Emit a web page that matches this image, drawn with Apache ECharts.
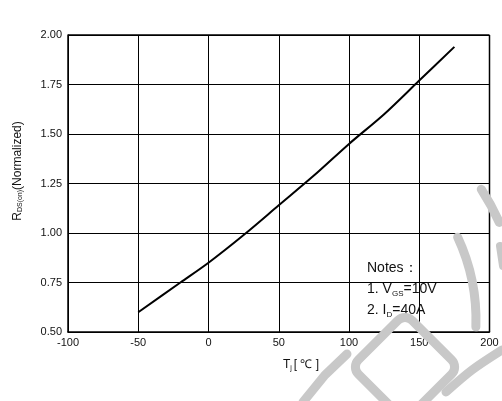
<!DOCTYPE html>
<html>
<head>
<meta charset="utf-8">
<script src="https://cdn.jsdelivr.net/npm/echarts@6/dist/echarts.min.js"></script>
<style>
html,body{margin:0;padding:0;background:#fff;}
#chart{width:502px;height:401px;}
</style>
</head>
<body>
<div id="chart"></div>
<script>
// Data
const temperatures = [-50, -20, 0, 25, 50, 75, 100, 125, 150, 175];
const rdsNormalized = [0.60, 0.75, 0.85, 0.99, 1.14, 1.29, 1.45, 1.60, 1.77, 1.94];
const xTicks = [-100, -50, 0, 50, 100, 150, 200];
const yTicks = ['0.50', '0.75', '1.00', '1.25', '1.50', '1.75', '2.00'];

const seriesData = temperatures.map((t, i) => [t, rdsNormalized[i]]);
const FONT = '"Liberation Sans", Arial, sans-serif';
const WM = '#c8c8c8';

const chart = echarts.init(document.getElementById('chart'), null, {renderer: 'canvas'});
chart.setOption({
  animation: false,
  backgroundColor: '#fff',
  grid: {left: 68, right: 12.5, top: 35, bottom: 69, show: false},
  xAxis: {
    type: 'value', min: -100, max: 200, interval: 50,
    axisLine: {show: true, onZero: false, lineStyle: {color: '#000', width: 1.5}},
    axisTick: {show: false},
    splitLine: {show: true, lineStyle: {color: '#000', width: 1}},
    axisLabel: {color: '#111', fontFamily: FONT, fontSize: 11, margin: 5,
      formatter: v => xTicks.includes(v) ? String(v) : ''}
  },
  yAxis: {
    type: 'value', min: 0.5, max: 2.0, interval: 0.25,
    axisLine: {show: true, onZero: false, lineStyle: {color: '#000', width: 1.5}},
    axisTick: {show: false},
    splitLine: {show: true, lineStyle: {color: '#000', width: 1}},
    axisLabel: {color: '#111', fontFamily: FONT, fontSize: 11, margin: 6,
      formatter: v => yTicks[Math.round((v - 0.5) / 0.25)] || ''}
  },
  series: [{
    type: 'line', data: seriesData, showSymbol: false, smooth: 0.3,
    lineStyle: {color: '#000', width: 2}, z: 5
  }],
  graphic: [
    // top & right frame
    {type: 'line', shape: {x1: 68, y1: 35, x2: 489.5, y2: 35}, style: {stroke: '#000', lineWidth: 1.5}, z: 4},
    {type: 'line', shape: {x1: 489.5, y1: 35, x2: 489.5, y2: 332}, style: {stroke: '#000', lineWidth: 1.5}, z: 4},
    // y axis name
    {type: 'text', x: 18, y: 171, rotation: Math.PI / 2, z: 10,
      style: {text: '{a|R}{s|DS(on)}{a|(Normalized)}', align: 'center', verticalAlign: 'middle',
        rich: {a: {fontFamily: FONT, fontSize: 12, fill: '#111'},
               s: {fontFamily: FONT, fontSize: 7, fill: '#111', verticalAlign: 'bottom', padding: [5, 0, 0, 0]}}}},
    // x axis name
    {type: 'text', x: 301, y: 365, z: 10,
      style: {text: '{a|T}{s|j}{a|[ ℃ ]}', align: 'center', verticalAlign: 'middle',
        rich: {a: {fontFamily: FONT, fontSize: 12, fill: '#111'},
               s: {fontFamily: FONT, fontSize: 7, fill: '#111', verticalAlign: 'bottom', padding: [6, 2, 0, 0]}}}},
    // notes
    {type: 'text', x: 367, y: 268, z: 10,
      style: {text: 'Notes：', fontFamily: FONT, fontSize: 14, fill: '#111', verticalAlign: 'middle',
        stroke: '#fff', lineWidth: 3}},
    {type: 'text', x: 367, y: 289, z: 10,
      style: {text: '{a|1. V}{s|GS}{a|=10V}', verticalAlign: 'middle',
        rich: {a: {fontFamily: FONT, fontSize: 14, fill: '#111', textStroke: '#fff', textStrokeWidth: 3},
               s: {fontFamily: FONT, fontSize: 8, fill: '#111', verticalAlign: 'bottom', padding: [9, 0, 0, 0]}}}},
    {type: 'text', x: 367, y: 310, z: 10,
      style: {text: '{a|2. I}{s|D}{a|=40A}', verticalAlign: 'middle',
        rich: {a: {fontFamily: FONT, fontSize: 14, fill: '#111', textStroke: '#fff', textStrokeWidth: 3},
               s: {fontFamily: FONT, fontSize: 8, fill: '#111', verticalAlign: 'bottom', padding: [9, 0, 0, 0]}}}},
    // watermark (light gray stamp)
    {type: 'arc', z: 20, shape: {cx: 280, cy: 320, r: 196, startAngle: -25 * Math.PI / 180, endAngle: 2 * Math.PI / 180},
      style: {stroke: WM, lineWidth: 9, fill: 'none', lineCap: 'round'}},
    {type: 'arc', z: 20, shape: {cx: 280, cy: 320, r: 240, startAngle: -33 * Math.PI / 180, endAngle: -24 * Math.PI / 180},
      style: {stroke: WM, lineWidth: 9, fill: 'none', lineCap: 'round'}},
    {type: 'line', z: 20, shape: {x1: 500, y1: 246, x2: 503, y2: 266},
      style: {stroke: WM, lineWidth: 8, lineCap: 'round'}},
    {type: 'rect', z: 20, x: 405, y: 367, rotation: Math.PI / 4,
      shape: {x: -38, y: -38, width: 76, height: 76, r: 10},
      style: {stroke: WM, lineWidth: 9, fill: 'none'}},
    {type: 'polyline', z: 20, shape: {points: [[446, 392], [472, 370], [502, 350]], smooth: 0.3},
      style: {stroke: WM, lineWidth: 9, fill: 'none', lineCap: 'round'}},
    {type: 'polyline', z: 20, shape: {points: [[303, 402], [325, 375], [347, 354]]},
      style: {stroke: WM, lineWidth: 9, fill: 'none', lineCap: 'round'}}
  ]
});
</script>
</body>
</html>
